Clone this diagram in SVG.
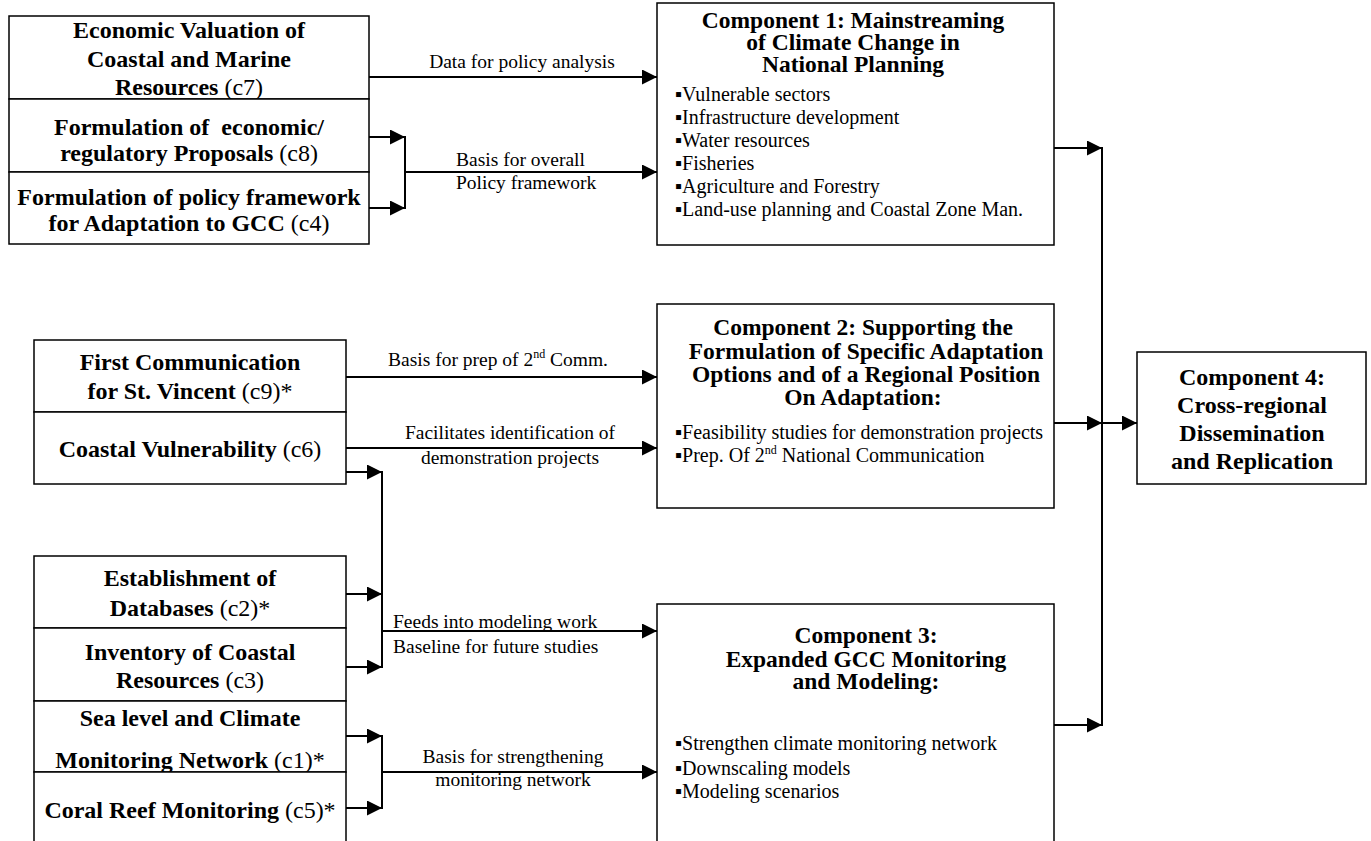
<svg xmlns="http://www.w3.org/2000/svg" width="1371" height="841" viewBox="0 0 1371 841">
<style>
text{font-family:"Liberation Serif","Times New Roman",serif;fill:#000}
.b{font-weight:bold;font-size:24px;text-anchor:middle}
.t{font-weight:bold;font-size:23.5px;text-anchor:middle}
.n{font-weight:normal}
.lab{font-size:19.5px}
.c{text-anchor:middle}
.bul{font-size:20px}
.box{fill:#fff;stroke:#000;stroke-width:1.5}
.con{fill:none;stroke:#000;stroke-width:2}
.sup{font-size:12px}
</style>
<defs>
<marker id="ah" markerWidth="15" markerHeight="15" refX="15" refY="7.5" orient="auto" markerUnits="userSpaceOnUse">
<path d="M0,0 L15,7.5 L0,15 z" fill="#000"/>
</marker>
</defs>
<rect width="1371" height="841" fill="#fff"/>

<g id="c7">
<rect class="box" x="9" y="16" width="360" height="83"/>
<text class="b" x="189" y="38">Economic Valuation of</text>
<text class="b" x="189" y="67">Coastal and Marine</text>
<text class="b" x="189" y="95">Resources <tspan class="n">(c7)</tspan></text>
</g>
<g id="c8">
<rect class="box" x="9" y="99" width="360" height="73"/>
<text class="b" x="189" y="135" xml:space="preserve">Formulation of  economic/</text>
<text class="b" x="189" y="161">regulatory Proposals <tspan class="n">(c8)</tspan></text>
</g>
<g id="c4">
<rect class="box" x="9" y="172" width="360" height="72"/>
<text class="b" x="189" y="205">Formulation of policy framework</text>
<text class="b" x="189" y="231">for Adaptation to GCC <tspan class="n">(c4)</tspan></text>
</g>

<g id="c9">
<rect class="box" x="34" y="340" width="312" height="72"/>
<text class="b" x="190" y="370">First Communication</text>
<text class="b" x="190" y="399">for St. Vincent <tspan class="n">(c9)*</tspan></text>
</g>
<g id="c6">
<rect class="box" x="34" y="412" width="312" height="72"/>
<text class="b" x="190" y="457">Coastal Vulnerability <tspan class="n">(c6)</tspan></text>
</g>

<g id="c2">
<rect class="box" x="34" y="556" width="312" height="72"/>
<text class="b" x="190" y="586">Establishment of</text>
<text class="b" x="190" y="616">Databases <tspan class="n">(c2)*</tspan></text>
</g>
<g id="c3">
<rect class="box" x="34" y="628" width="312" height="73"/>
<text class="b" x="190" y="660">Inventory of Coastal</text>
<text class="b" x="190" y="688">Resources <tspan class="n">(c3)</tspan></text>
</g>
<g id="c1">
<rect class="box" x="34" y="701" width="312" height="71"/>
<text class="b" x="190" y="726">Sea level and Climate</text>
<text class="b" x="190" y="768">Monitoring Network <tspan class="n">(c1)*</tspan></text>
</g>
<g id="c5">
<rect class="box" x="34" y="772" width="312" height="80"/>
<text class="b" x="190" y="818">Coral Reef Monitoring <tspan class="n">(c5)*</tspan></text>
</g>

<g id="comp1">
<rect class="box" x="657" y="3" width="397" height="242"/>
<text class="t" x="853" y="28">Component 1: Mainstreaming</text>
<text class="t" x="853" y="50">of Climate Change in</text>
<text class="t" x="853" y="72">National Planning</text>
<text class="bul" x="675" y="101">▪Vulnerable sectors</text>
<text class="bul" x="675" y="124">▪Infrastructure development</text>
<text class="bul" x="675" y="147">▪Water resources</text>
<text class="bul" x="675" y="170">▪Fisheries</text>
<text class="bul" x="675" y="193">▪Agriculture and Forestry</text>
<text class="bul" x="675" y="216">▪Land-use planning and Coastal Zone Man.</text>
</g>

<g id="comp2">
<rect class="box" x="657" y="304" width="397" height="204"/>
<text class="t" x="863" y="335">Component 2: Supporting the</text>
<text class="t" x="866" y="359">Formulation of Specific Adaptation</text>
<text class="t" x="866" y="382">Options and of a Regional Position</text>
<text class="t" x="863" y="405">On Adaptation:</text>
<text class="bul" x="675" y="439">▪Feasibility studies for demonstration projects</text>
<text class="bul" x="675" y="462">▪Prep. Of 2<tspan class="sup" dy="-8">nd</tspan><tspan dy="8"> National Communication</tspan></text>
</g>

<g id="comp3">
<rect class="box" x="657" y="604" width="397" height="250"/>
<text class="t" x="866" y="643">Component 3:</text>
<text class="t" x="866" y="667">Expanded GCC Monitoring</text>
<text class="t" x="866" y="689">and Modeling:</text>
<text class="bul" x="675" y="750">▪Strengthen climate monitoring network</text>
<text class="bul" x="675" y="775">▪Downscaling models</text>
<text class="bul" x="675" y="798">▪Modeling scenarios</text>
</g>

<g id="comp4">
<rect class="box" x="1137" y="352" width="229" height="132"/>
<text class="b" x="1252" y="385">Component 4:</text>
<text class="b" x="1252" y="413">Cross-regional</text>
<text class="b" x="1252" y="441">Dissemination</text>
<text class="b" x="1252" y="469">and Replication</text>
</g>

<g id="connectors">
<path class="con" d="M369,77 H657" marker-end="url(#ah)"/>
<path class="con" d="M369,137 H405" marker-end="url(#ah)"/>
<path class="con" d="M369,208 H405" marker-end="url(#ah)"/>
<path class="con" d="M405,136 V209"/>
<path class="con" d="M405,172 H657" marker-end="url(#ah)"/>

<path class="con" d="M346,377 H657" marker-end="url(#ah)"/>
<path class="con" d="M346,448 H657" marker-end="url(#ah)"/>
<path class="con" d="M346,472 H382" marker-end="url(#ah)"/>
<path class="con" d="M346,594 H382" marker-end="url(#ah)"/>
<path class="con" d="M346,667 H382" marker-end="url(#ah)"/>
<path class="con" d="M382,471 V668"/>
<path class="con" d="M382,631 H657" marker-end="url(#ah)"/>

<path class="con" d="M346,736 H382" marker-end="url(#ah)"/>
<path class="con" d="M346,808 H382" marker-end="url(#ah)"/>
<path class="con" d="M382,735 V809"/>
<path class="con" d="M382,772 H657" marker-end="url(#ah)"/>

<path class="con" d="M1054,148 H1102" marker-end="url(#ah)"/>
<path class="con" d="M1054,423 H1102" marker-end="url(#ah)"/>
<path class="con" d="M1054,725 H1102" marker-end="url(#ah)"/>
<path class="con" d="M1102,147 V726"/>
<path class="con" d="M1102,423 H1137" marker-end="url(#ah)"/>

<text class="lab c" x="522" y="68">Data for policy analysis</text>
<text class="lab" x="456" y="166">Basis for overall</text>
<text class="lab" x="456" y="189">Policy framework</text>
<text class="lab c" x="498" y="366">Basis for prep of 2<tspan class="sup" dy="-8">nd</tspan><tspan dy="8"> Comm.</tspan></text>
<text class="lab c" x="510" y="439">Facilitates identification of</text>
<text class="lab c" x="510" y="464">demonstration projects</text>
<text class="lab" x="393" y="628">Feeds into modeling work</text>
<text class="lab" x="393" y="653">Baseline for future studies</text>
<text class="lab c" x="513" y="763">Basis for strengthening</text>
<text class="lab c" x="513" y="786">monitoring network</text>
</g>
</svg>
